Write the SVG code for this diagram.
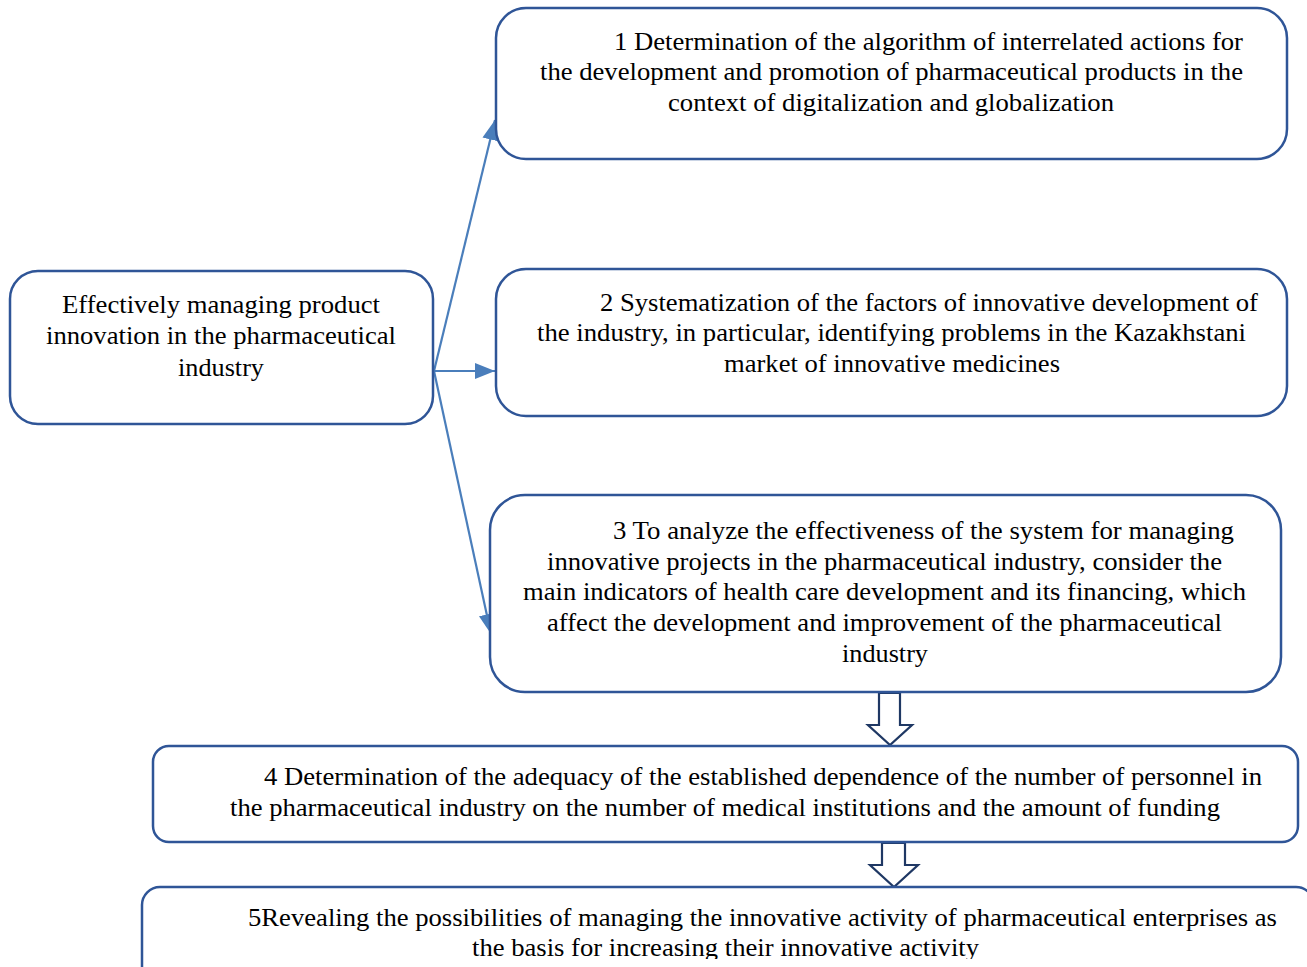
<svg xmlns="http://www.w3.org/2000/svg" width="1307" height="967" viewBox="0 0 1307 967">
<style>
.box{fill:#fff;stroke:#2F5597;stroke-width:2.5}
.t{font-family:"Liberation Serif","Times New Roman",serif;font-size:26px;fill:#000}
.c{stroke:#4A7EBB;stroke-width:2.2;fill:none}
.blk{fill:#fff;stroke:#1F3864;stroke-width:2.2}
</style>
<defs>
<marker id="ah2" viewBox="0 0 10 10" refX="10" refY="5" markerWidth="20" markerHeight="16" markerUnits="userSpaceOnUse" orient="auto" preserveAspectRatio="none">
<path d="M0,0 L10,5 L0,10 z" fill="#4A7EBB"/>
</marker>
<clipPath id="clipB"><rect x="0" y="0" width="1307" height="959"/></clipPath>
</defs>
<rect width="1307" height="967" fill="#fff"/>

<g id="connectors">
<line class="c" x1="434" y1="371" x2="495" y2="120" marker-end="url(#ah2)"/>
<line class="c" x1="434" y1="371" x2="495" y2="371" marker-end="url(#ah2)"/>
<line class="c" x1="434" y1="371" x2="491" y2="634" marker-end="url(#ah2)"/>
<path class="blk" d="M879,693 L900,693 L900,725 L912,725 L890,745 L868,725 L879,725 Z"/>
<path class="blk" d="M882,843 L905,843 L905,865 L918,865 L894,887 L870,865 L882,865 Z"/>
</g>

<g id="node0">
<rect class="box" x="10" y="271" width="423" height="153" rx="28"/>
<text class="t" x="62" y="313" textLength="318" lengthAdjust="spacingAndGlyphs">Effectively managing product</text>
<text class="t" x="46" y="344" textLength="350" lengthAdjust="spacingAndGlyphs">innovation in the pharmaceutical</text>
<text class="t" x="178" y="376" textLength="86" lengthAdjust="spacingAndGlyphs">industry</text>
</g>

<g id="node1">
<rect class="box" x="496" y="8" width="791" height="151" rx="30"/>
<text class="t" x="614" y="50" textLength="629" lengthAdjust="spacingAndGlyphs">1 Determination of the algorithm of interrelated actions for</text>
<text class="t" x="540" y="80" textLength="703" lengthAdjust="spacingAndGlyphs">the development and promotion of pharmaceutical products in the</text>
<text class="t" x="668" y="111" textLength="446" lengthAdjust="spacingAndGlyphs">context of digitalization and globalization</text>
</g>

<g id="node2">
<rect class="box" x="496" y="269" width="791" height="147" rx="30"/>
<text class="t" x="600" y="311" textLength="658" lengthAdjust="spacingAndGlyphs">2 Systematization of the factors of innovative development of</text>
<text class="t" x="537" y="341" textLength="709" lengthAdjust="spacingAndGlyphs">the industry, in particular, identifying problems in the Kazakhstani</text>
<text class="t" x="724" y="372" textLength="336" lengthAdjust="spacingAndGlyphs">market of innovative medicines</text>
</g>

<g id="node3">
<rect class="box" x="490" y="495" width="791" height="197" rx="35"/>
<text class="t" x="613" y="539" textLength="621" lengthAdjust="spacingAndGlyphs">3 To analyze the effectiveness of the system for managing</text>
<text class="t" x="547" y="570" textLength="675" lengthAdjust="spacingAndGlyphs">innovative projects in the pharmaceutical industry, consider the</text>
<text class="t" x="523" y="600" textLength="723" lengthAdjust="spacingAndGlyphs">main indicators of health care development and its financing, which</text>
<text class="t" x="547" y="631" textLength="675" lengthAdjust="spacingAndGlyphs">affect the development and improvement of the pharmaceutical</text>
<text class="t" x="842" y="662" textLength="86" lengthAdjust="spacingAndGlyphs">industry</text>
</g>

<g id="node4">
<rect class="box" x="153" y="746" width="1145" height="96" rx="16"/>
<text class="t" x="264" y="785" textLength="998" lengthAdjust="spacingAndGlyphs">4 Determination of the adequacy of the established dependence of the number of personnel in</text>
<text class="t" x="230" y="816" textLength="990" lengthAdjust="spacingAndGlyphs">the pharmaceutical industry on the number of medical institutions and the amount of funding</text>
</g>

<g id="node5">
<rect class="box" x="142" y="887" width="1172" height="120" rx="18"/>
<g clip-path="url(#clipB)">
<text class="t" x="248" y="926" textLength="1029" lengthAdjust="spacingAndGlyphs">5Revealing the possibilities of managing the innovative activity of pharmaceutical enterprises as</text>
<text class="t" x="472" y="956" textLength="507" lengthAdjust="spacingAndGlyphs">the basis for increasing their innovative activity</text>
</g>
</g>
</svg>
